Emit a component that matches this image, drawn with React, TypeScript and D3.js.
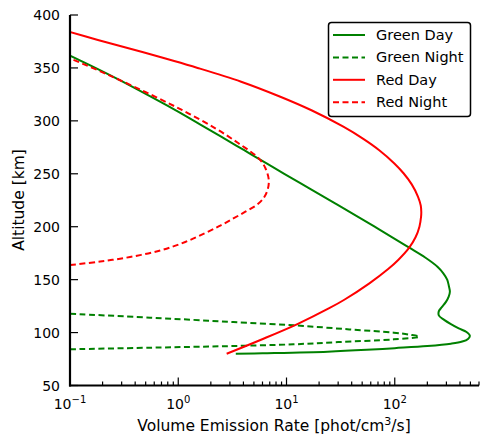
import React from "react";
import * as d3 from "d3";

// ---- data (altitude in km, volume emission rate in phot/cm^3/s) ----
const greenDayAlt = [80, 80.5, 82, 83.7, 85.3, 87.3, 89.5, 91.5, 94, 97, 100.5, 104, 108, 112, 116, 120, 124, 129, 134, 138.6, 144, 150, 156, 162.2, 170.9, 180.4, 190, 200, 210, 222, 235, 250, 260, 272.5, 285, 300, 315, 330, 345, 361.5];
const greenDayVal = [3.4, 6.0, 24, 55, 100, 200, 330, 420, 475, 494, 460, 390, 330, 286, 256, 255, 272, 297, 315, 323, 316, 305, 281, 248, 191, 135, 94.8, 65.2, 44.6, 28.1, 17.0, 9.53, 6.49, 4.03, 2.49, 1.4, 0.771, 0.414, 0.215, 0.1];

const greenNightAlt = [84.2, 85.7, 86.5, 87.3, 88.9, 91, 93.6, 96.1, 98, 99.9, 103, 106.9, 109.9, 112.0, 114.1, 117.8];
const greenNightVal = [0.1, 0.55, 1.38, 3.23, 11.6, 30, 98, 168, 138, 98, 38, 11.6, 3.23, 1.38, 0.55, 0.1];

const redDayAlt = [80, 93, 108, 123, 131, 146.5, 160, 168.6, 180, 190, 200, 209.5, 214, 220, 228.3, 240, 250.5, 260, 272.5, 283, 294.5, 310, 322.8, 337, 350, 365, 376.4, 385];
const redDayVal = [2.8, 5.74, 12.6, 24.8, 34.2, 58.3, 86.9, 107.6, 135.5, 155.6, 169, 175, 175.8, 173.8, 164.1, 143.5, 120.5, 98.6, 71.4, 51.2, 33.5, 17.0, 8.77, 3.81, 1.51, 0.466, 0.181, 0.092];

const redNightAlt = [163.8, 167.1, 171.4, 177.5, 185.6, 194.1, 201.1, 207.8, 214.2, 220.2, 226.6, 234.7, 244.1, 255.2, 264.6, 278.8, 293, 310.3, 327.5, 344.9, 359];
const redNightVal = [0.1, 0.19, 0.359, 0.681, 1.16, 1.78, 2.45, 3.23, 4.17, 5.25, 6.1, 6.68, 6.86, 6.39, 5.54, 3.6, 2.2, 1.08, 0.49, 0.21, 0.1];

const seriesNames = ["Green Day", "Green Night", "Red Day", "Red Night"];
const seriesColors = ["#008000", "#008000", "#ff0000", "#ff0000"];
const seriesDashed = [false, true, false, true];
const seriesAlts = [greenDayAlt, greenNightAlt, redDayAlt, redNightAlt];
const seriesVals = [greenDayVal, greenNightVal, redDayVal, redNightVal];

const xDomain = [0.1, 600];
const yDomain = [50, 400];
const yTicks = [50, 100, 150, 200, 250, 300, 350, 400];
const xMajorExps = [-1, 0, 1, 2];

const W = 481, H = 436;
const left = 70, right = 479, top = 15, bottom = 385.5;
const FONT = "'DejaVu Sans', sans-serif";

export default function App() {
  const x = d3.scaleLog().domain(xDomain).range([left, right]);
  const y = d3.scaleLinear().domain(yDomain).range([bottom, top]);

  const line = d3
    .line<[number, number]>()
    .x((d) => x(d[1]))
    .y((d) => y(d[0]))
    .curve(d3.curveCatmullRom.alpha(0.5));

  const minor: number[] = [];
  for (const e of xMajorExps) {
    for (let m = 2; m <= 9; m++) {
      const v = m * Math.pow(10, e);
      if (v <= xDomain[1]) minor.push(v);
    }
  }

  const legX = 328.5, legY = 22.5, legW = 142, legH = 94;
  const rowY = (i: number) => 35 + i * 22.4;

  return (
    <svg
      width={W}
      height={H}
      style={{ position: "absolute", left: 0, top: 0, background: "#fff" }}
      fontFamily={FONT}
    >
      <defs>
        <clipPath id="plotclip">
          <rect x={left} y={top} width={right - left} height={bottom - top} />
        </clipPath>
      </defs>
      <rect x={0} y={0} width={W} height={H} fill="#fff" />

      <g clipPath="url(#plotclip)">
        {seriesNames.map((n, i) => {
          const pts: [number, number][] = seriesAlts[i].map(
            (a, j) => [a, seriesVals[i][j]] as [number, number]
          );
          return (
            <path
              key={n}
              d={line(pts) || ""}
              fill="none"
              stroke={seriesColors[i]}
              strokeWidth={2}
              strokeDasharray={seriesDashed[i] ? "6,3.5" : undefined}
            />
          );
        })}
      </g>

      {/* x minor ticks */}
      {minor.map((v) => (
        <line key={"mi" + v} x1={x(v)} x2={x(v)} y1={bottom} y2={bottom - 4} stroke="#000" strokeWidth={1.2} />
      ))}
      {/* x major ticks + labels */}
      {xMajorExps.map((e) => {
        const px = x(Math.pow(10, e));
        return (
          <g key={"ma" + e}>
            <line x1={px} x2={px} y1={bottom} y2={bottom - 8} stroke="#000" strokeWidth={1.2} />
            <text x={px} y={409} fontSize={14} textAnchor="middle">
              10
              <tspan fontSize={10} dy={-6}>{String(e).replace("-", "\u2212")}</tspan>
            </text>
          </g>
        );
      })}
      {/* y ticks */}
      {yTicks.map((t) => (
        <g key={"y" + t}>
          <line x1={left} x2={left + 8} y1={y(t)} y2={y(t)} stroke="#000" strokeWidth={1.2} />
          <text x={60} y={y(t)} fontSize={14} textAnchor="end" dominantBaseline="central">
            {t}
          </text>
        </g>
      ))}

      {/* spines */}
      <line x1={left} x2={left} y1={top} y2={bottom + 1} stroke="#000" strokeWidth={2.2} />
      <line x1={left - 1} x2={right} y1={bottom} y2={bottom} stroke="#000" strokeWidth={2.2} />

      {/* axis labels */}
      <text x={274} y={431} fontSize={15.5} textAnchor="middle">
        Volume Emission Rate [phot/cm<tspan fontSize={11} dy={-6}>3</tspan>
        <tspan dy={6}>/s]</tspan>
      </text>
      <text transform={`translate(23.5,200) rotate(-90)`} fontSize={15.5} textAnchor="middle">
        Altitude [km]
      </text>

      {/* legend */}
      <rect x={legX} y={legY} width={legW} height={legH} rx={3} ry={3} fill="#fff" stroke="#000" strokeWidth={1.5} />
      {seriesNames.map((n, i) => (
        <g key={"lg" + n}>
          <line
            x1={333}
            x2={365}
            y1={rowY(i)}
            y2={rowY(i)}
            stroke={seriesColors[i]}
            strokeWidth={2}
            strokeDasharray={seriesDashed[i] ? "6,3.5" : undefined}
          />
          <text x={376} y={rowY(i)} fontSize={14.5} dominantBaseline="central">
            {n}
          </text>
        </g>
      ))}
    </svg>
  );
}
